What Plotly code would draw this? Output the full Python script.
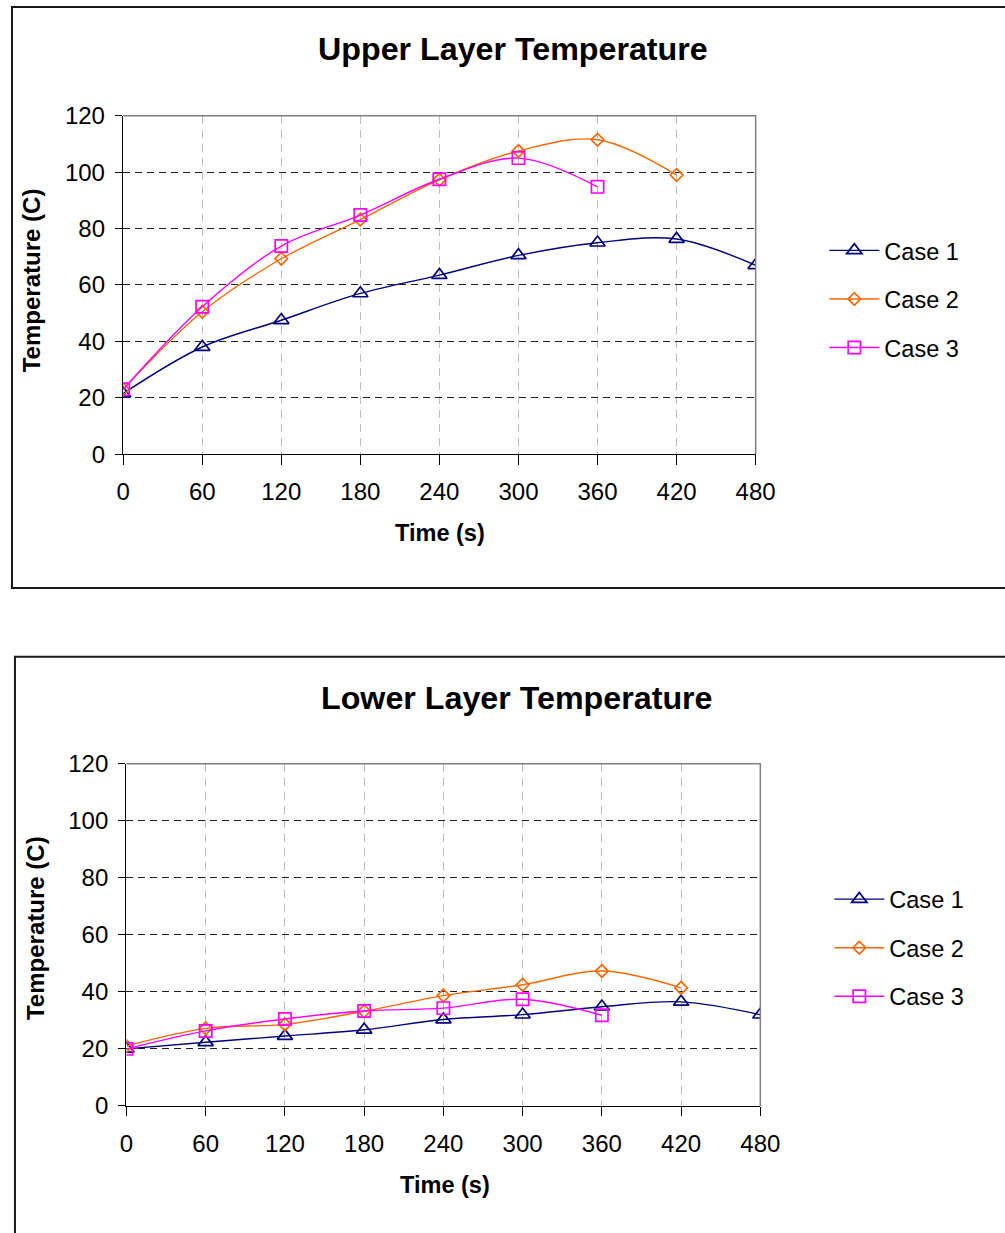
import plotly.graph_objects as go

# Time points (s)
time_s = [0, 60, 120, 180, 240, 300, 360, 420, 480]

# Upper layer temperature (C)
upper_case1 = [21.5, 38, 47.5, 57, 63.5, 70.5, 75, 76.3, 67]
upper_case2 = [23, 50.5, 69.3, 83.2, 97.3, 107.5, 111.5, 99]
upper_case3 = [23, 52.3, 73.8, 84.8, 97.5, 105, 94.8]

# Lower layer temperature (C)
lower_case1 = [20, 22.3, 24.5, 26.7, 30.3, 32, 34.8, 36.5, 32]
lower_case2 = [21, 27.2, 28.6, 33.2, 38.7, 42.5, 47.3, 41.4]
lower_case3 = [20, 26.3, 30.5, 33.3, 34.3, 37.4, 31.8]

series_names = ["Case 1", "Case 2", "Case 3"]
colors = ["#000080", "#FF6600", "#FF00FF"]
symbols = ["triangle-up-open", "diamond-open", "square-open"]
marker_sizes = [13, 9.5, 12]

x_ticks = [0, 60, 120, 180, 240, 300, 360, 420, 480]
y_ticks = [0, 20, 40, 60, 80, 100, 120]

W, H = 1005, 1233
FONT = "Liberation Sans, Arial, sans-serif"

# layout is specified in on-screen pixels; these convert to figure pixels
SX, OX = 0.9775, 5.0
SY, OY = 0.98, 12.0
K = 1 / SX  # size factor for fonts / markers


def px_x(v):
    return ((v - OX) / SX) / W


def px_y(v):
    return 1 - ((v - OY) / SY) / H


fig = go.Figure()

panels = [
    dict(data=[upper_case1, upper_case2, upper_case3], xa="x", ya="y", legend="legend"),
    dict(data=[lower_case1, lower_case2, lower_case3], xa="x2", ya="y2", legend="legend2"),
]

for p in panels:
    for i, vals in enumerate(p["data"]):
        fig.add_trace(go.Scatter(
            x=time_s[:len(vals)], y=vals,
            name=series_names[i],
            mode="lines+markers",
            line=dict(color=colors[i], width=1.4, shape="spline", smoothing=1),
            marker=dict(symbol=symbols[i], size=marker_sizes[i] * K, color=colors[i],
                        line=dict(color=colors[i], width=1.7)),
            xaxis=p["xa"], yaxis=p["ya"],
            legend=p["legend"], legendgroup=p["legend"] + str(i),
        ))

# plot-area geometry in screen pixels: (left, right, top, bottom)
areas = [(121.7, 757, 114, 453), (125, 761.7, 763.3, 1106)]

axis_common = dict(
    showline=True, linecolor="black", linewidth=1.4,
    ticks="outside", tickcolor="black", tickwidth=1.3,
    tickfont=dict(family=FONT, size=23.5 * K, color="black"),
    zeroline=False, showgrid=True,
)

for k, (l, r, t, b) in enumerate(areas):
    sfx = "" if k == 0 else str(k + 1)
    fig.layout["xaxis" + sfx] = dict(
        axis_common,
        domain=[px_x(l), px_x(r)], anchor="y" + sfx,
        range=[0, 480], tickvals=x_ticks, ticklen=9 * K,
        gridcolor="#BEBEBE", griddash="8px,6px", gridwidth=1,
        ticklabelstandoff=7,
    )
    fig.layout["yaxis" + sfx] = dict(
        axis_common,
        domain=[px_y(b), px_y(t)], anchor="x" + sfx,
        range=[0, 120], tickvals=y_ticks, ticklen=7 * K,
        gridcolor="#202020", griddash="7px,5px", gridwidth=1,
        ticklabelstandoff=5,
    )

shapes = []
# outer chart frames
shapes.append(dict(type="rect", xref="paper", yref="paper",
                   x0=px_x(10), x1=px_x(1015), y0=px_y(587), y1=px_y(5),
                   line=dict(color="#1a1a1a", width=2), layer="below"))
shapes.append(dict(type="rect", xref="paper", yref="paper",
                   x0=px_x(13), x1=px_x(1015), y0=px_y(1250), y1=px_y(656),
                   line=dict(color="#1a1a1a", width=2), layer="below"))
# grey plot-area borders (top and right)
for k, (l, r, t, b) in enumerate(areas):
    shapes.append(dict(type="path", xref="paper", yref="paper",
                       path=f"M {px_x(l)},{px_y(t)} L {px_x(r)},{px_y(t)} L {px_x(r)},{px_y(b)}",
                       line=dict(color="#808080", width=1.5), layer="above"))
fig.update_layout(shapes=shapes)

annotations = []
titles = [("Upper Layer Temperature", 513, 47), ("Lower Layer Temperature", 517, 697)]
for text, cx, cy in titles:
    annotations.append(dict(text=f"<b>{text}</b>", x=px_x(cx), y=px_y(cy),
                            xref="paper", yref="paper", showarrow=False,
                            xanchor="center", yanchor="middle",
                            font=dict(family=FONT, size=31.5 * K, color="black")))
for cx, cy in [(440, 532), (445, 1185)]:
    annotations.append(dict(text="<b>Time (s)</b>", x=px_x(cx), y=px_y(cy),
                            xref="paper", yref="paper", showarrow=False,
                            xanchor="center", yanchor="middle",
                            font=dict(family=FONT, size=23 * K, color="black")))
for cx, cy in [(30, 279), (33, 928)]:
    annotations.append(dict(text="<b>Temperature (C)</b>", x=px_x(cx), y=px_y(cy),
                            xref="paper", yref="paper", showarrow=False,
                            xanchor="center", yanchor="middle", textangle=-90,
                            font=dict(family=FONT, size=23.5 * K, color="black")))
fig.update_layout(annotations=annotations)

legend_common = dict(
    font=dict(family=FONT, size=23 * K, color="black"),
    bgcolor="rgba(0,0,0,0)", borderwidth=0,
    xanchor="left", yanchor="top", tracegroupgap=15, itemwidth=50,
    xref="paper", yref="paper",
)
fig.update_layout(
    legend=dict(legend_common, x=px_x(826), y=px_y(227)),
    legend2=dict(legend_common, x=px_x(831), y=px_y(877)),
)

fig.update_layout(
    width=W, height=H, autosize=False,
    margin=dict(l=0, r=0, t=0, b=0),
    paper_bgcolor="white", plot_bgcolor="white",
    showlegend=True,
)

fig.write_html("out.html")
